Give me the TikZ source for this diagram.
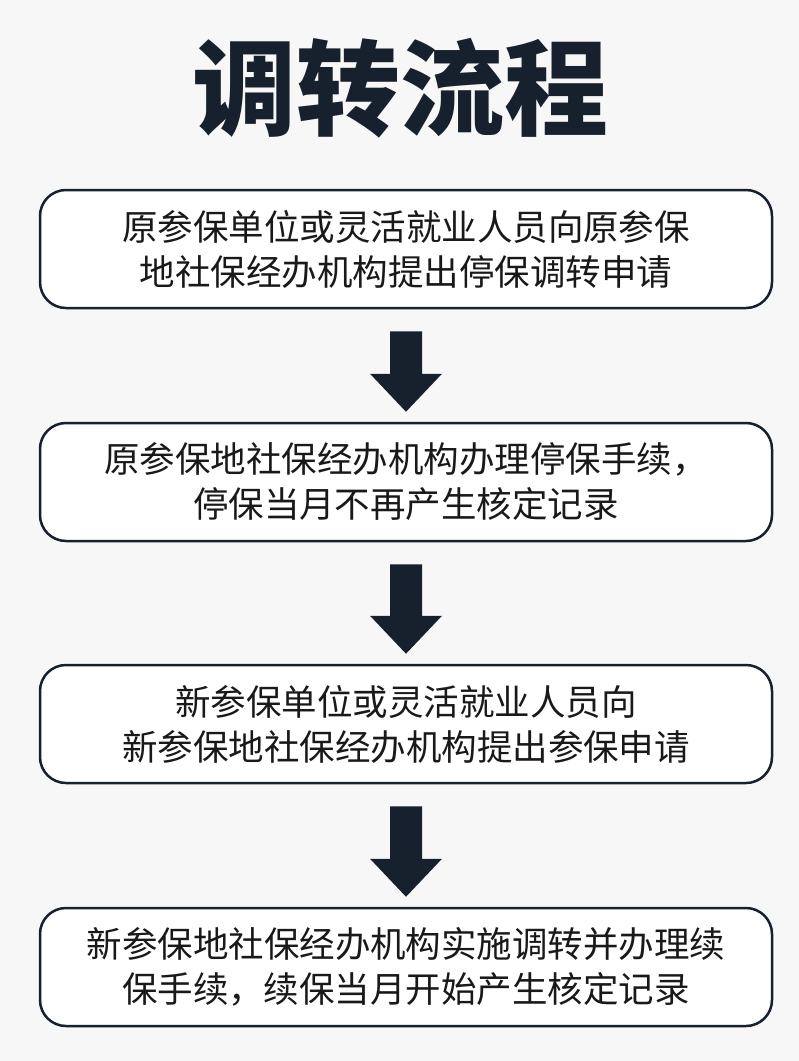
\documentclass[tikz,border=0pt]{standalone}
\usepackage{fontspec}
\usetikzlibrary{calc}
\newfontfamily\cjk{Noto Sans CJK SC}
\newfontfamily\cjkb{Noto Sans CJK SC Black}
\definecolor{navy}{HTML}{17212E}
\definecolor{bg}{HTML}{F7F7F7}
\begin{document}
\begin{tikzpicture}[x=1pt,y=-1pt,
  stepbox/.style={draw=navy,line width=2.5pt,rounded corners=26pt,fill=white,minimum width=732pt,minimum height=118pt,align=center,font=\cjk\fontsize{35.5}{45}\selectfont,text=black!90},
  bigarrow/.style={fill=navy}]
\fill[bg] (0,0) rectangle (799,1061);
\useasboundingbox (0,0) rectangle (799,1061);
\node[font=\cjkb\fontsize{104}{110}\selectfont,text=navy] (title) at (400,88) {调转流程};
\node[stepbox] (b1) at (406,249) {原参保单位或灵活就业人员向原参保\\地社保经办机构提出停保调转申请};
\node[stepbox] (b2) at (406,482) {原参保地社保经办机构办理停保手续，\\停保当月不再产生核定记录};
\node[stepbox] (b3) at (406,724) {新参保单位或灵活就业人员向\\新参保地社保经办机构提出参保申请};
\node[stepbox] (b4) at (406,967) {新参保地社保经办机构实施调转并办理续\\保手续，续保当月开始产生核定记录};
\foreach \a/\b in {b1/b2,b2/b3,b3/b4}{
  \path (\a.south) ++(0,22) coordinate (s) (\b.north) ++(0,-10) coordinate (e);
  \fill[bigarrow] ($(s)+(-16,0)$) -- ($(s)+(16,0)$) -- ($(e)+(16,-38)$) -- ($(e)+(36,-38)$) -- (e) -- ($(e)+(-36,-38)$) -- ($(e)+(-16,-38)$) -- cycle;
}
\end{tikzpicture}
\end{document}
